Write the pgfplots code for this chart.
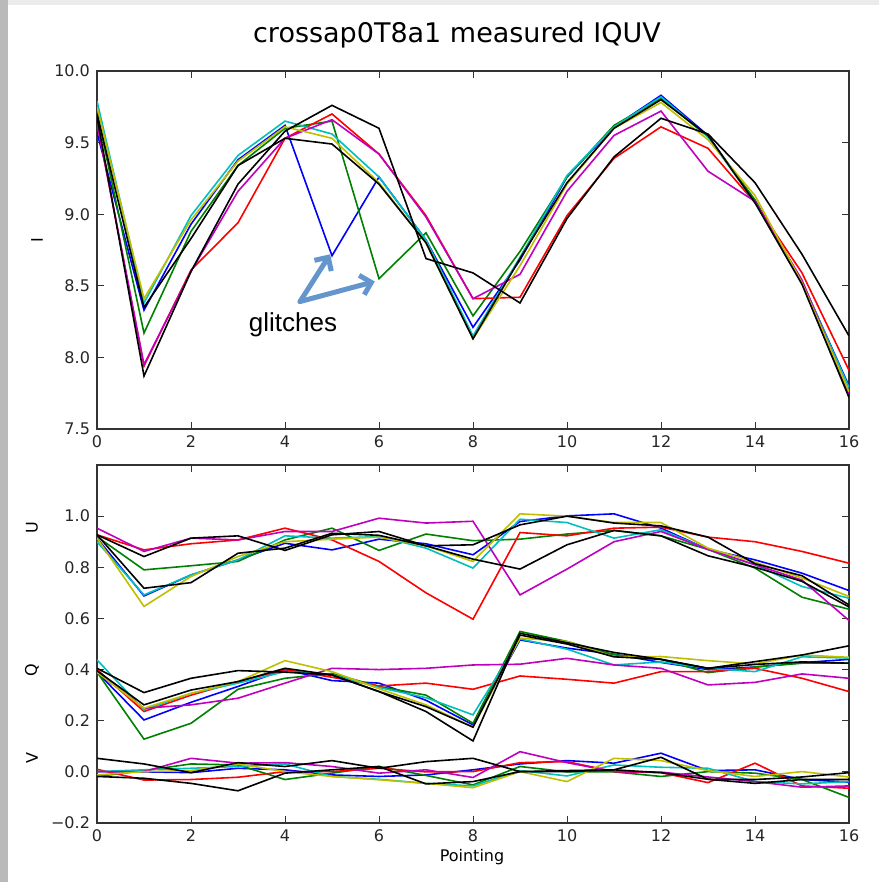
\documentclass[border=0pt]{standalone}
\usepackage{fontspec}
\setmainfont{DejaVu Sans}
\newfontfamily\arialfont{Liberation Sans}
\usepackage{pgfplots}
\usepackage{pgfplotstable}
\pgfplotsset{compat=1.18}
\usetikzlibrary{arrows.meta}
\definecolor{mb}{rgb}{0,0,1}
\definecolor{mg}{rgb}{0,0.5,0}
\definecolor{mr}{rgb}{1,0,0}
\definecolor{mc}{rgb}{0,0.75,0.75}
\definecolor{mm}{rgb}{0.75,0,0.75}
\definecolor{my}{rgb}{0.75,0.75,0}
\definecolor{arrowblue}{RGB}{100,150,205}

\pgfplotstableread{
x b g r c m y ka kb
0 9.57 9.71 9.64 9.79 9.64 9.75 9.68 9.70
1 8.33 8.17 7.94 8.38 7.95 8.41 7.87 8.35
2 8.93 8.88 8.61 8.99 8.60 8.96 8.60 8.83
3 9.38 9.34 8.94 9.41 9.16 9.37 9.21 9.34
4 9.62 9.60 9.53 9.65 9.53 9.61 9.58 9.53
5 8.71 9.65 9.70 9.56 9.66 9.53 9.76 9.49
6 9.26 8.55 9.42 9.26 9.42 9.22 9.60 9.21
7 8.82 8.87 8.99 8.82 8.98 8.80 8.69 8.80
8 8.21 8.29 8.41 8.15 8.41 8.13 8.59 8.13
9 8.68 8.74 8.42 8.70 8.58 8.64 8.38 8.69
10 9.26 9.26 8.99 9.27 9.16 9.21 8.97 9.22
11 9.61 9.62 9.39 9.61 9.55 9.60 9.40 9.60
12 9.83 9.81 9.61 9.82 9.72 9.78 9.67 9.80
13 9.55 9.54 9.46 9.54 9.30 9.52 9.56 9.55
14 9.09 9.10 9.08 9.08 9.09 9.13 9.22 9.08
15 8.53 8.52 8.59 8.53 8.54 8.52 8.72 8.51
16 7.80 7.74 7.91 7.79 7.75 7.76 8.15 7.72
}\Itab

\pgfplotstableread{
x b g r c m y ka kb
0 0.914 0.920 0.927 0.900 0.953 0.914 0.927 0.927
1 0.688 0.790 0.868 0.692 0.862 0.647 0.842 0.718
2 0.770 0.806 0.892 0.770 0.914 0.764 0.914 0.740
3 0.829 0.823 0.907 0.829 0.907 0.842 0.923 0.855
4 0.894 0.907 0.953 0.923 0.940 0.900 0.866 0.875
5 0.868 0.953 0.907 0.914 0.940 0.910 0.927 0.933
6 0.910 0.866 0.823 0.920 0.992 0.918 0.940 0.925
7 0.892 0.930 0.700 0.875 0.973 0.884 0.884 0.884
8 0.849 0.904 0.597 0.797 0.980 0.823 0.888 0.832
9 0.979 0.910 0.936 0.988 0.692 1.009 0.966 0.793
10 1.001 0.930 0.923 0.975 0.793 1.000 1.000 0.888
11 1.009 0.944 0.953 0.914 0.900 0.975 0.973 0.944
12 0.953 0.923 0.957 0.947 0.940 0.975 0.962 0.923
13 0.870 0.870 0.918 0.870 0.870 0.875 0.918 0.845
14 0.829 0.797 0.900 0.810 0.810 0.820 0.814 0.800
15 0.777 0.683 0.862 0.725 0.750 0.758 0.767 0.745
16 0.709 0.636 0.816 0.679 0.592 0.686 0.653 0.645
}\Utab

\pgfplotstableread{
x b g r c m y ka kb
0 0.390 0.390 0.400 0.438 0.390 0.390 0.405 0.395
1 0.203 0.128 0.236 0.242 0.249 0.249 0.310 0.262
2 0.272 0.190 0.300 0.307 0.262 0.307 0.366 0.320
3 0.334 0.323 0.353 0.347 0.288 0.353 0.396 0.353
4 0.400 0.366 0.400 0.392 0.347 0.435 0.390 0.405
5 0.357 0.385 0.370 0.380 0.405 0.392 0.379 0.379
6 0.347 0.334 0.336 0.330 0.400 0.325 0.314 0.314
7 0.280 0.300 0.347 0.290 0.405 0.262 0.236 0.255
8 0.184 0.190 0.323 0.223 0.418 0.175 0.121 0.175
9 0.516 0.549 0.375 0.520 0.421 0.523 0.542 0.535
10 0.484 0.510 0.362 0.480 0.444 0.510 0.505 0.500
11 0.460 0.458 0.347 0.418 0.418 0.450 0.467 0.450
12 0.428 0.440 0.392 0.430 0.405 0.451 0.440 0.440
13 0.400 0.388 0.392 0.405 0.340 0.435 0.405 0.405
14 0.410 0.410 0.405 0.392 0.350 0.422 0.431 0.420
15 0.427 0.425 0.366 0.450 0.383 0.457 0.457 0.430
16 0.440 0.425 0.314 0.445 0.366 0.448 0.493 0.425
}\Qtab

\pgfplotstableread{
x b g r c m y ka kb
0 0.001 -0.018 0.010 0.001 0.001 -0.012 0.053 -0.018
1 0.000 0.005 -0.032 0.008 0.001 0.001 0.031 -0.025
2 -0.003 0.031 -0.030 0.014 0.053 0.005 -0.003 -0.045
3 0.014 0.027 -0.021 0.021 0.034 0.031 0.036 -0.074
4 0.008 -0.030 0.001 0.031 0.036 0.001 0.021 -0.005
5 -0.012 -0.005 0.001 -0.018 0.021 -0.018 0.044 0.008
6 -0.018 0.021 0.014 -0.029 -0.005 -0.031 0.014 0.021
7 -0.012 -0.014 0.000 -0.045 0.008 -0.045 0.040 -0.047
8 0.008 -0.051 0.001 -0.055 -0.022 -0.062 0.053 -0.038
9 0.031 0.021 0.036 0.005 0.079 0.001 0.001 0.001
10 0.044 0.000 0.040 -0.016 0.036 -0.038 0.001 0.005
11 0.034 0.000 0.001 0.027 0.001 0.053 0.008 0.008
12 0.073 -0.018 -0.003 0.018 -0.001 0.044 0.057 -0.003
13 0.005 0.001 -0.042 0.014 -0.020 0.005 -0.029 -0.029
14 0.008 -0.005 0.034 -0.038 -0.038 -0.018 -0.045 -0.030
15 -0.030 -0.030 -0.055 -0.047 -0.060 0.001 -0.030 -0.020
16 -0.040 -0.100 -0.064 -0.038 -0.055 -0.020 -0.030 -0.003
}\Vtab

\begin{document}
\begin{tikzpicture}
\path[use as bounding box] (0pt,0pt) rectangle (439.5pt,-441pt);
\fill[black!27] (0pt,0pt) rectangle (4pt,-441pt);
\fill[black!8] (4pt,0pt) rectangle (439.5pt,-2.5pt);
\pgfplotsset{every axis/.append style={
  scale only axis, width=376pt, height=179pt, anchor=north west,
  xmin=0, xmax=16, xtick={0,2,...,16}, xticklabels={0,2,4,6,8,10,12,14,16},
  tick align=inside, major tick length=3.5pt,
  axis line style={black!80, line width=0.75pt},
  tick style={black!80, line width=0.5pt},
  ticklabel style={font=\fontsize{8}{9}\selectfont, text=black!85},
  every axis plot/.append style={line width=0.8pt, no markers},
}}
\begin{axis}[at={(48.5pt,-35.5pt)},
  ymin=7.5, ymax=10, ytick={7.5,8,8.5,9,9.5,10},
  yticklabels={7.5,8.0,8.5,9.0,9.5,10.0}]
\addplot[mb] table[x=x,y=b]{\Itab};
\addplot[mg] table[x=x,y=g]{\Itab};
\addplot[mr] table[x=x,y=r]{\Itab};
\addplot[mc] table[x=x,y=c]{\Itab};
\addplot[mm] table[x=x,y=m]{\Itab};
\addplot[my] table[x=x,y=y]{\Itab};
\addplot[black] table[x=x,y=ka]{\Itab};
\addplot[black] table[x=x,y=kb]{\Itab};
\draw[-{Straight Barb[length=5pt,width=10pt]}, line width=2.5pt, arrowblue, line cap=round]
  (axis cs:4.32,8.39) -- (axis cs:4.96,8.72);
\draw[-{Straight Barb[length=5pt,width=10pt]}, line width=2.5pt, arrowblue, line cap=round]
  (axis cs:4.32,8.39) -- (axis cs:5.91,8.53);
\node[font=\arialfont\fontsize{13}{15}\selectfont] at (axis cs:4.17,8.23) {glitches};
\end{axis}
\begin{axis}[at={(48.5pt,-232.5pt)},
  ymin=-0.2, ymax=1.2, ytick={-0.2,0,0.2,0.4,0.6,0.8,1.0},
  yticklabels={−0.2,0.0,0.2,0.4,0.6,0.8,1.0}]
\addplot[mb] table[x=x,y=b]{\Utab};
\addplot[mg] table[x=x,y=g]{\Utab};
\addplot[mr] table[x=x,y=r]{\Utab};
\addplot[mc] table[x=x,y=c]{\Utab};
\addplot[mm] table[x=x,y=m]{\Utab};
\addplot[my] table[x=x,y=y]{\Utab};
\addplot[black] table[x=x,y=ka]{\Utab};
\addplot[black] table[x=x,y=kb]{\Utab};
\addplot[mb] table[x=x,y=b]{\Qtab};
\addplot[mg] table[x=x,y=g]{\Qtab};
\addplot[mr] table[x=x,y=r]{\Qtab};
\addplot[mc] table[x=x,y=c]{\Qtab};
\addplot[mm] table[x=x,y=m]{\Qtab};
\addplot[my] table[x=x,y=y]{\Qtab};
\addplot[black] table[x=x,y=ka]{\Qtab};
\addplot[black] table[x=x,y=kb]{\Qtab};
\addplot[mb] table[x=x,y=b]{\Vtab};
\addplot[mg] table[x=x,y=g]{\Vtab};
\addplot[mr] table[x=x,y=r]{\Vtab};
\addplot[mc] table[x=x,y=c]{\Vtab};
\addplot[mm] table[x=x,y=m]{\Vtab};
\addplot[my] table[x=x,y=y]{\Vtab};
\addplot[black] table[x=x,y=ka]{\Vtab};
\addplot[black] table[x=x,y=kb]{\Vtab};
\end{axis}
\node[font=\fontsize{13.5}{16}\selectfont] at (228.5pt,-17.5pt) {crossap0T8a1 measured IQUV};
\node[rotate=90, font=\fontsize{8}{9}\selectfont] at (18.5pt,-120pt) {I};
\node[rotate=90, font=\fontsize{8}{9}\selectfont] at (16pt,-264pt) {U};
\node[rotate=90, font=\fontsize{8}{9}\selectfont] at (16pt,-335pt) {Q};
\node[rotate=90, font=\fontsize{8}{9}\selectfont] at (16pt,-379pt) {V};
\node[font=\fontsize{8}{9}\selectfont] at (236pt,-428.5pt) {Pointing};
\end{tikzpicture}
\end{document}
